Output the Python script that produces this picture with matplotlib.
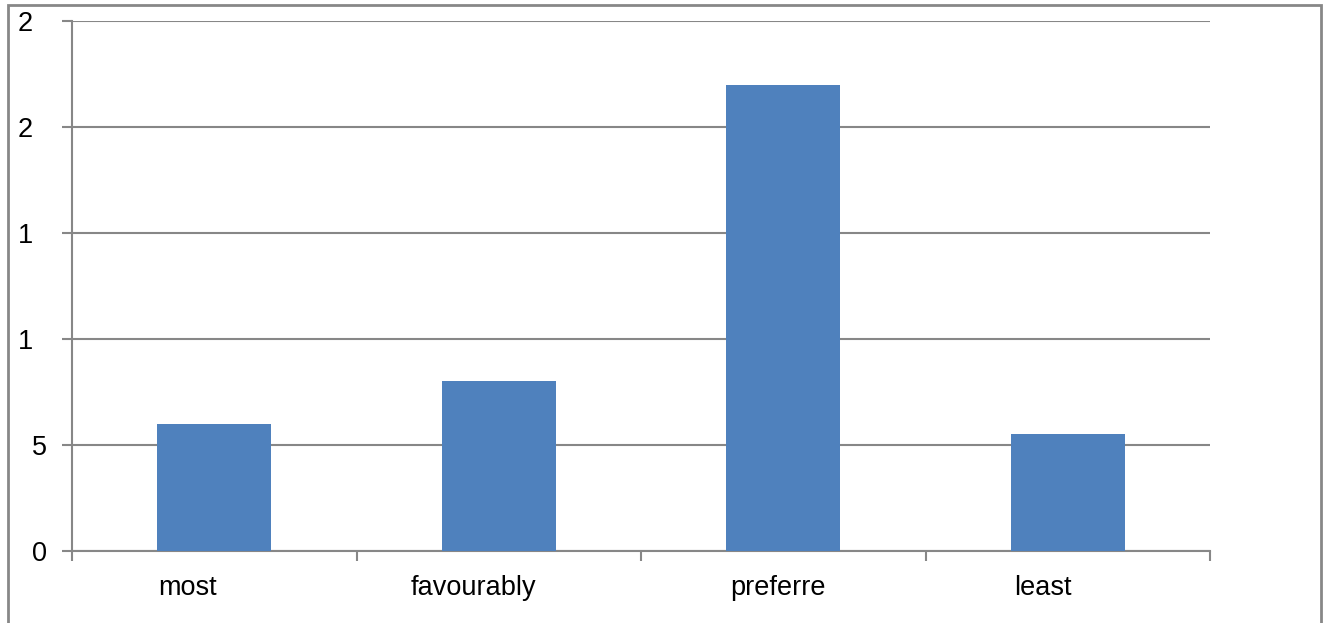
import matplotlib.pyplot as plt
from matplotlib.patches import Rectangle
from matplotlib.transforms import ScaledTranslation

plt.rcParams['font.family'] = ['Liberation Sans', 'DejaVu Sans']

# chart data
categories = ["most", "favourably", "preferre", "least"]
values = [6, 8, 22, 5.5]
y_ticks = [0, 5, 10, 15, 20, 25]
y_tick_labels = ["0", "5", "1", "1", "2", "2"]

grey = "#878787"

fig = plt.figure(figsize=(13.27, 6.23), dpi=100)
ax = fig.add_axes([72 / 1327, 1 - 551 / 623, (1210 - 72) / 1327, (551 - 21) / 623])

x = list(range(len(categories)))
ax.bar(x, values, width=0.4, color="#4F81BD", zorder=3)

ax.set_xlim(-0.5, len(categories) - 0.5)
ax.set_ylim(y_ticks[0], y_ticks[-1])

ax.set_yticks(y_ticks)
ax.set_yticklabels(y_tick_labels, fontsize=19.5)
ax.yaxis.grid(True, color=grey, linewidth=1.5, zorder=0)
ax.tick_params(axis="y", direction="out", length=7, width=1.5, color=grey, pad=11)

ax.set_xticks(x)
ax.set_xticklabels(categories, fontsize=19.5)
ax.set_xticks([i - 0.5 for i in range(len(categories) + 1)], minor=True)
ax.tick_params(axis="x", which="major", length=0, pad=17)
ax.tick_params(axis="x", which="minor", direction="out", length=7, width=1.5, color=grey)

# labels sit slightly left of the bar centres; two-digit y labels keep only their first digit
x_shift_px = [-27, -25, -5, -25]
for lbl, dx in zip(ax.get_xticklabels(), x_shift_px):
    lbl.set_transform(lbl.get_transform() + ScaledTranslation(dx / 100, 0, fig.dpi_scale_trans))
for lbl, val in zip(ax.get_yticklabels(), y_ticks):
    if val >= 10:
        lbl.set_transform(lbl.get_transform() + ScaledTranslation(-14 / 100, 0, fig.dpi_scale_trans))

for side in ["top", "right"]:
    ax.spines[side].set_visible(False)
for side in ["left", "bottom"]:
    ax.spines[side].set_color(grey)
    ax.spines[side].set_linewidth(1.5)

# outer frame around the chart area
fig.patches.append(Rectangle((8 / 1327, -0.05), (1321 - 8) / 1327, 1.05 - 5 / 623,
                             transform=fig.transFigure, fill=False,
                             edgecolor=grey, linewidth=2))

fig.savefig("out.png", dpi=100)
